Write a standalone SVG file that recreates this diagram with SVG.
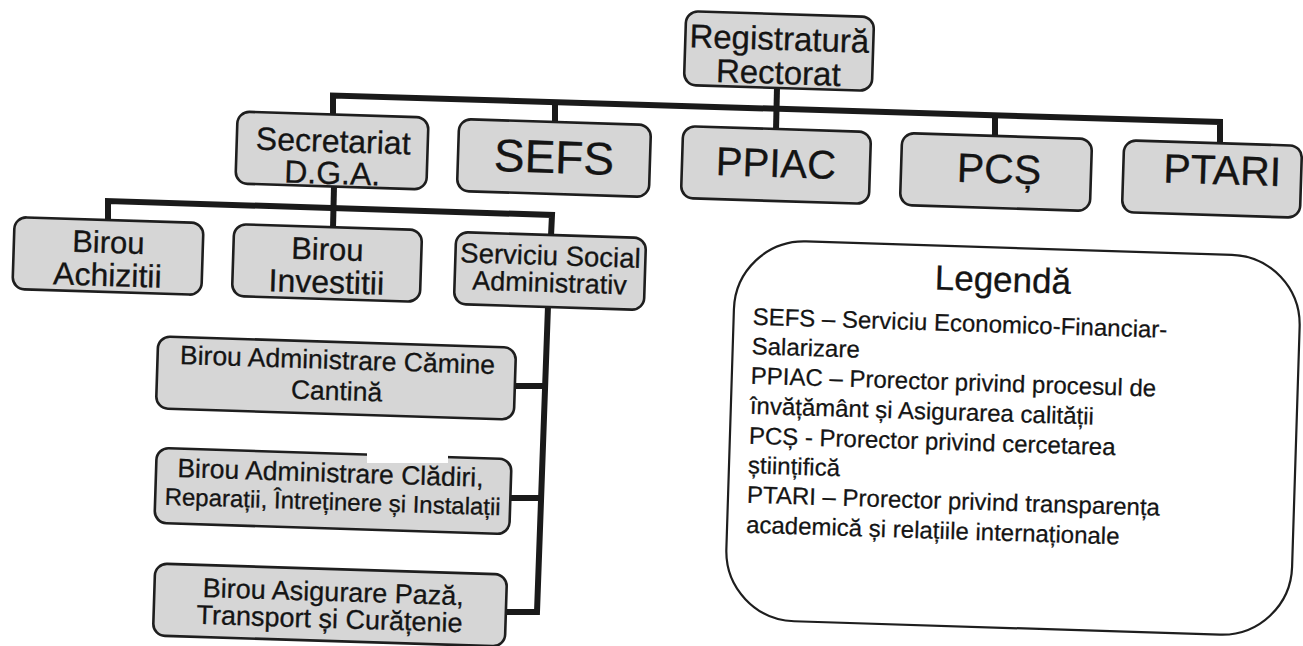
<svg xmlns="http://www.w3.org/2000/svg" width="1303" height="646" viewBox="0 0 1303 646">
<style>
.box{fill:#d6d6d6;stroke:#1e1e1e;stroke-width:2.6}
.t{font-family:"Liberation Sans",Arial,sans-serif;fill:#141414;text-anchor:middle;stroke:#141414;stroke-width:0.3}
.lg{font-family:"Liberation Sans",Arial,sans-serif;fill:#141414;font-size:24px;stroke:#141414;stroke-width:0.25}
.c{fill:none;stroke:#1a1a1a;stroke-width:6;stroke-linejoin:miter}
</style>
<rect width="1303" height="646" fill="#ffffff"/>
<g id="connectors">
<path class="c" d="M333,114 L333,95.5 L1220,122 L1220,143"/>
<path class="c" d="M555,102 L555,123"/>
<path class="c" d="M777,88 L776,130"/>
<path class="c" d="M995,115 L995,137"/>
<path class="c" d="M334,186 L333,228"/>
<path class="c" d="M108,221 L108,201 L552,215 L551,236"/>
<path class="c" d="M548,306 L537,612 L506,612"/>
<path class="c" d="M545,386 L514,386"/>
<path class="c" d="M541,498 L510,498"/>
</g>
<g id="n-registratura" transform="rotate(1.8 779 51)">
<rect class="box" x="685" y="14" width="188" height="74" rx="12"/>
<text class="t" x="779" y="50" font-size="33">Registratură</text>
<text class="t" x="779" y="84" font-size="33">Rectorat</text>
</g>
<g id="n-secretariat" transform="rotate(1.8 332 150.5)">
<rect class="box" x="236.5" y="114.5" width="191" height="72" rx="12"/>
<text class="t" x="333" y="152" font-size="32">Secretariat</text>
<text class="t" x="333" y="184" font-size="32">D.G.A.</text>
</g>
<g id="n-sefs" transform="rotate(1.8 554 158)">
<rect class="box" x="458" y="122" width="192" height="72" rx="12"/>
<text class="t" x="554" y="173" font-size="46">SEFS</text>
</g>
<g id="n-ppiac" transform="rotate(1.8 776 165)">
<rect class="box" x="682" y="129" width="188" height="72" rx="12"/>
<text class="t" x="776" y="177" font-size="40">PPIAC</text>
</g>
<g id="n-pcs" transform="rotate(1.8 996 172)">
<rect class="box" x="901" y="136" width="190" height="72" rx="12"/>
<text class="t" x="999" y="183" font-size="41">PCȘ</text>
</g>
<g id="n-ptari" transform="rotate(1.8 1212 179)">
<rect class="box" x="1123" y="143" width="178" height="72" rx="12"/>
<text class="t" x="1222" y="184" font-size="41">PTARI</text>
</g>
<g id="n-achizitii" transform="rotate(1.8 108 256)">
<rect class="box" x="13.5" y="220" width="189" height="72" rx="12"/>
<text class="t" x="108" y="253" font-size="31">Birou</text>
<text class="t" x="108" y="286" font-size="32">Achizitii</text>
</g>
<g id="n-investitii" transform="rotate(1.8 327 263)">
<rect class="box" x="233" y="227" width="188" height="72" rx="12"/>
<text class="t" x="327" y="260" font-size="31">Birou</text>
<text class="t" x="327" y="293" font-size="32">Investitii</text>
</g>
<g id="n-serviciu" transform="rotate(1.8 550 271)">
<rect class="box" x="455" y="235" width="190" height="72" rx="12"/>
<text class="t" x="550" y="265" font-size="27.5">Serviciu Social</text>
<text class="t" x="550" y="292" font-size="27">Administrativ</text>
</g>
<g id="n-camine" transform="rotate(1.8 336 378)">
<rect class="box" x="157" y="342" width="358" height="72" rx="12"/>
<text class="t" x="337" y="369" font-size="26.5">Birou Administrare Cămine</text>
<text class="t" x="337" y="400" font-size="26.5">Cantină</text>
</g>
<g id="n-cladiri">
<g transform="rotate(1.8 333 491)">
<rect class="box" x="155.5" y="453.5" width="355" height="75" rx="12"/>
<text class="t" x="330" y="482" font-size="26.5">Birou Administrare Clădiri,</text>
<text class="t" x="333" y="510" font-size="24">Reparații, Întreținere și Instalații</text>
</g>
<rect x="367" y="445" width="81" height="18" fill="#ffffff"/>
</g>
<g id="n-paza" transform="rotate(1.8 330 605)">
<rect class="box" x="154" y="569" width="352" height="72" rx="12"/>
<text class="t" x="333" y="601" font-size="27">Birou Asigurare Pază,</text>
<text class="t" x="330" y="628" font-size="27">Transport și Curățenie</text>
</g>
<g id="legend" transform="rotate(1.8 1012 438)">
<rect x="730" y="248" width="566" height="380" rx="70" fill="#ffffff" stroke="#1e1e1e" stroke-width="2.2"/>
<text class="t" x="998" y="292" font-size="35">Legendă</text>
<text class="lg" x="749" y="333">SEFS – Serviciu Economico-Financiar-</text>
<text class="lg" x="749" y="362.5">Salarizare</text>
<text class="lg" x="749" y="392">PPIAC – Prorector privind procesul de</text>
<text class="lg" x="749" y="422">învățământ și Asigurarea calității</text>
<text class="lg" x="749" y="452">PCȘ - Prorector privind cercetarea</text>
<text class="lg" x="749" y="481.5">științifică</text>
<text class="lg" x="749" y="511">PTARI – Prorector privind transparența</text>
<text class="lg" x="749" y="541">academică și relațiile internaționale</text>
</g>
</svg>
